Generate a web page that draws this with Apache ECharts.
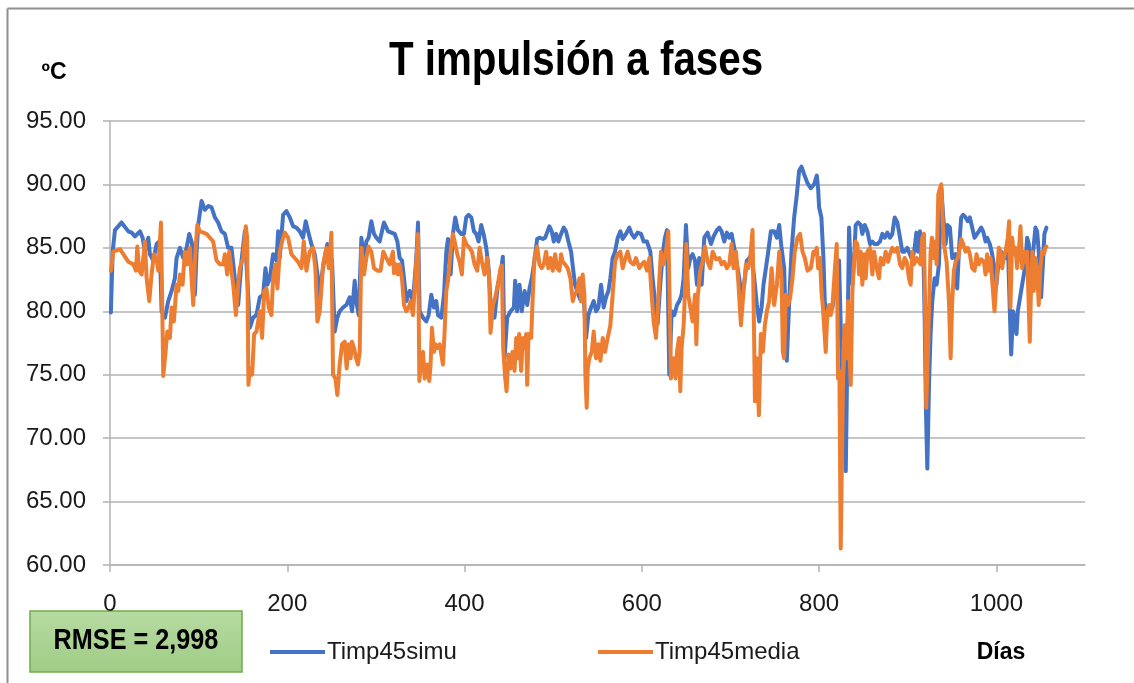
<!DOCTYPE html>
<html>
<head>
<meta charset="utf-8">
<script src="https://cdn.jsdelivr.net/npm/echarts@6/dist/echarts.min.js"></script>
<style>
  html, body { margin: 0; padding: 0; background: #fff; }
  #chart { width: 1134px; height: 683px; }
</style>
</head>
<body>
<div id="chart"></div>
<script>
// Chart text
const chartTitle = 'T impulsión a fases';
const yUnit = 'ºC';
const xName = 'Días';
const rmseText = 'RMSE = 2,998';
const seriesNames = ['Timp45simu', 'Timp45media'];

// Axis ticks
const xTickValues = [0, 200, 400, 600, 800, 1000];
const yTickValues = [60, 65, 70, 75, 80, 85, 90, 95];

// Simulated supply temperature: [day, ºC]
const simuPoints = [[1,79.9],[3,84.7],[5.6,86.4],[13,87.0],[15,87.0],[20.7,86.3],[24.4,86.2],[28.2,85.9],[33.8,86.3],[36.8,85.8],[39.4,84.7],[43.2,85.8],[45,84.5],[48.8,84.0],[52.6,85.3],[55.6,85.5],[56.7,84.0],[58.2,80.0],[62,79.5],[65.7,80.8],[69.5,81.6],[73.2,82.6],[75.1,84.2],[78.9,85.0],[82.6,84.2],[86.4,85.0],[89.4,86.1],[92,85.5],[93.9,84.7],[95.8,81.3],[97.7,84.7],[99.5,86.8],[103.3,88.7],[107,88.0],[110.8,88.3],[114.6,88.2],[118.3,87.4],[122,87.0],[125.8,86.3],[129.6,86.1],[133.3,85.0],[137.1,85.0],[140.8,82.6],[144.6,80.5],[148.4,84.0],[152.1,86.3],[154,83.7],[155.9,81.3],[157.7,78.7],[161.5,79.5],[165.2,79.7],[169,81.1],[172.8,81.3],[175.4,83.4],[177.6,82.1],[180.3,82.6],[184,84.5],[187.8,84.0],[189.7,86.3],[191.5,84.2],[195.3,87.6],[199.1,87.9],[202.8,87.4],[206.6,86.7],[210.3,86.6],[214.1,86.3],[217.8,85.8],[220.8,87.1],[223.5,86.3],[227.2,85.3],[231,84.5],[234.7,82.6],[236.6,80.5],[239.2,82.9],[242.2,84.2],[245.2,85.3],[247.9,84.7],[250.5,84.0],[253.5,78.4],[256.5,79.5],[259.1,80.0],[262.9,80.3],[266.7,80.5],[270.4,81.1],[273.1,80.0],[276.1,82.4],[277.9,80.8],[280.6,79.7],[283.6,85.8],[286.6,84.0],[289.2,85.5],[291.8,85.8],[294.8,87.1],[297.8,86.1],[300.5,85.8],[304.2,85.5],[309.1,87.0],[313.7,86.3],[317.4,86.2],[321.2,86.1],[324.2,85.5],[326.8,84.2],[329.4,84.0],[331.7,82.6],[334.3,80.8],[338.1,81.6],[341.8,80.8],[345.6,84.2],[347.5,87.0],[349.3,80.0],[353.1,79.5],[356.9,79.2],[359.5,79.7],[362.5,81.3],[365.5,80.3],[368.1,80.8],[370,79.7],[373.8,79.5],[376.8,81.3],[379.4,84.7],[381.3,85.7],[384.3,82.9],[386.9,86.1],[389.5,87.4],[392.5,86.4],[396.3,86.1],[399.3,86.1],[401.9,87.4],[404.6,87.6],[407.6,87.4],[410.6,86.3],[413.2,86.1],[415.8,85.5],[418.8,86.8],[421.5,86.1],[424.5,85.0],[427.1,83.4],[430.1,79.7],[433.8,79.5],[437.6,82.1],[440.6,82.9],[443.2,84.3],[445.1,76.3],[448.1,79.5],[451.9,80.0],[455.6,80.3],[457.1,82.4],[459.4,80.0],[462,82.1],[464.6,80.0],[467.7,81.6],[470.7,80.5],[473.3,81.8],[475.9,82.6],[478.9,84.0],[481.9,85.7],[484.5,85.8],[488.3,85.7],[490.9,85.8],[493.1,86.2],[495.8,86.7],[498.4,86.3],[500.7,85.5],[503.3,86.1],[505.9,85.5],[508.9,86.1],[511.9,86.6],[514.5,86.3],[517.2,85.5],[520.2,84.7],[523.2,82.9],[524.7,82.1],[526.9,81.6],[529.6,81.1],[531.5,80.8],[534.5,81.1],[537.1,77.9],[539.7,79.7],[542.7,80.3],[545.7,80.8],[548.4,80.0],[551,80.3],[554,82.1],[557,80.3],[559.6,81.1],[562.3,81.6],[564.5,82.6],[567.1,84.2],[569.8,84.7],[572.8,85.8],[575.8,86.3],[578.4,85.7],[582.2,86.1],[585.9,86.6],[588.5,86.1],[591.5,85.8],[595.3,86.2],[599.1,86.1],[602.1,85.5],[605.8,85.5],[609.6,84.7],[612.2,82.6],[614.8,80.8],[617.8,79.0],[620.8,82.1],[623.5,84.5],[626.1,85.8],[628.4,86.4],[631,75.0],[633.7,80.0],[636.7,79.7],[639.7,80.5],[642.3,80.8],[644.9,81.3],[647.2,82.6],[649.8,86.8],[652.4,83.4],[654.7,84.2],[657.3,84.5],[660,84.0],[662.2,82.1],[664.8,84.2],[667.5,82.1],[670.5,85.8],[674.2,86.2],[678,85.3],[681,85.9],[684.7,86.4],[687.4,86.6],[690,86.3],[693,85.5],[696,86.2],[698.6,85.8],[701.3,86.1],[704.3,85.0],[707.3,83.7],[709.9,82.6],[712.5,81.3],[715.5,82.1],[718.5,84.0],[721.2,84.2],[723.8,84.5],[726.8,82.6],[729.8,80.5],[732.4,79.2],[735.1,80.3],[737.3,82.1],[740,83.4],[742.6,84.7],[745.6,86.3],[749.3,86.3],[752.4,85.8],[755,86.8],[757.6,85.0],[760.6,83.4],[762.5,78.7],[763.6,76.1],[766.3,80.8],[768.9,84.7],[771.9,87.4],[774.9,89.2],[777.5,91.1],[780.1,91.4],[783.1,90.8],[786.9,90.1],[790.6,89.7],[794.4,90.0],[797.4,90.7],[798.9,89.7],[800,88.2],[802.6,87.4],[804.9,84.2],[806.4,80.8],[808.6,79.5],[811.3,80.0],[815,80.3],[818.8,82.1],[822.5,84.0],[825.2,76.8],[827.4,72.9],[830.1,67.4],[831.9,76.8],[833.8,86.6],[835.7,83.4],[837.6,82.1],[839.4,84.0],[841.3,86.8],[844,87.0],[847,86.8],[848.8,86.1],[851.5,86.8],[854.5,86.3],[857.5,85.3],[860.1,85.5],[862.7,85.3],[865.7,85.3],[868.7,85.5],[871.4,86.1],[874,85.8],[877,86.2],[880,85.8],[882.6,86.1],[885.3,87.4],[888.3,87.0],[891.3,85.8],[893.9,84.7],[896.5,84.7],[899.5,85.0],[902.5,84.5],[905.2,84.0],[907.8,85.0],[909.7,86.2],[911.6,84.7],[913.8,86.3],[915.3,84.2],[917.6,85.0],[919.1,79.5],[920.6,72.1],[922.1,67.6],[924,74.2],[925.8,78.2],[927.7,80.8],[930.3,82.6],[932.6,82.1],[935.2,83.7],[937.9,89.7],[940.1,87.4],[942.7,85.3],[944.6,86.8],[947.6,86.6],[950.2,84.2],[954,84.5],[955.8,81.8],[957.7,84.7],[960.3,87.4],[962.6,87.6],[965.2,87.4],[967.8,87.1],[970.1,87.4],[972.7,86.6],[975.4,85.8],[977.6,85.7],[980.2,86.3],[982.9,86.6],[985.1,86.3],[987.8,85.5],[989.6,85.8],[992.6,85.3],[995.3,84.5],[997.1,83.7],[1000.1,82.1],[1002.8,84.2],[1005.4,84.7],[1007.7,84.5],[1010.3,84.2],[1012.9,85.5],[1015.2,80.0],[1016.7,76.6],[1018.9,80.0],[1020.4,79.5],[1022.7,78.2],[1024.2,80.0],[1026.4,80.0],[1029.1,82.1],[1031,82.9],[1032.8,83.7],[1034.7,85.8],[1036.6,85.3],[1039.2,82.9],[1041.5,84.7],[1044.1,86.6],[1046,86.3],[1047.8,84.7],[1050.5,81.1],[1052.7,84.0],[1054.2,86.1],[1056.5,86.6]];

// Measured (mean) supply temperature: [day, ºC]
const mediaPoints = [[1,83.2],[3.8,84.7],[11.3,84.9],[15,84.5],[20.7,83.9],[26.3,83.7],[29.3,83.2],[30.8,85.1],[33.1,83.2],[35.7,82.9],[39.4,85.5],[41.3,82.6],[44.3,80.8],[46.9,82.9],[49.6,84.5],[52.6,84.0],[54.5,83.2],[57.5,87.0],[58.6,82.1],[60.1,74.9],[62.7,76.8],[64.6,78.4],[67.6,77.9],[69.5,80.3],[72.1,79.2],[75.1,82.1],[77,81.6],[78.9,82.9],[81.9,82.1],[84.5,84.7],[87.1,83.7],[90.1,85.0],[92,82.6],[93.9,80.5],[95.8,84.0],[98.4,86.8],[101.4,86.3],[105.2,86.2],[108.9,86.1],[112.7,85.8],[116.4,85.5],[120.2,84.0],[124,83.7],[127.7,83.7],[129.6,84.5],[132.2,82.9],[134.5,84.7],[137.1,83.2],[139,82.1],[142,79.7],[144.6,82.1],[146.5,83.4],[150.2,84.2],[153.2,86.7],[154.7,85.8],[156.2,74.2],[157.7,75.5],[160.4,75.0],[162.6,78.2],[165.2,78.4],[169,80.0],[171.6,77.9],[173.9,81.6],[176.5,81.8],[179.1,80.3],[182.1,79.7],[184,82.6],[186.7,83.7],[188.9,81.8],[191.5,84.7],[194.2,85.5],[197.2,86.2],[200.9,85.8],[204.7,84.5],[208.4,84.2],[212.2,83.9],[216,83.4],[218.6,85.5],[221.6,83.2],[225.3,84.7],[229.1,85.0],[231.7,83.4],[234,79.2],[236.6,80.0],[240.4,83.7],[244.1,85.0],[246.8,83.4],[249.8,86.2],[251.6,75.0],[254.3,74.7],[256.5,73.4],[259.1,75.8],[261.8,77.4],[264.8,77.6],[267,75.5],[269.3,77.4],[271.5,76.3],[273,77.6],[275.3,77.1],[277.6,76.3],[279.8,75.8],[281.7,76.8],[283.6,85.0],[286.6,82.9],[289.2,84.2],[291.8,85.1],[294.8,84.7],[297.8,83.4],[301.6,83.2],[305.3,83.2],[308.3,84.7],[311.7,84.2],[315.5,83.7],[319.2,84.7],[320.4,83.0],[323,83.7],[324.9,82.9],[326.8,83.7],[329.4,82.6],[331.7,80.5],[334.3,80.0],[337,80.3],[339.2,80.8],[341.8,79.7],[344.5,82.6],[347.5,86.1],[349,74.5],[351.2,76.3],[353.1,76.8],[355,74.7],[358,75.8],[360.2,74.5],[361.7,75.8],[363.2,78.7],[365.5,76.8],[367,77.4],[369.2,77.1],[371.9,77.4],[373.8,76.6],[375.6,75.8],[377.5,78.4],[379.4,81.6],[381.3,82.4],[384.3,84.7],[386.9,86.1],[388.8,85.5],[391.8,84.5],[394.4,83.9],[397,82.9],[399.3,85.8],[401.9,85.3],[405.7,85.0],[408.3,84.7],[411.3,83.7],[414.3,83.2],[417,85.0],[419.6,83.9],[422.6,82.9],[425.6,84.2],[427.8,82.6],[429.3,78.3],[432,80.5],[434.6,81.1],[437.6,82.1],[440.6,83.4],[442.1,83.6],[443.6,77.1],[445.9,74.7],[447.4,73.7],[449.6,76.6],[451.9,75.5],[454.1,76.8],[456.4,75.3],[458.3,77.9],[460.1,76.3],[461.6,78.2],[463.9,75.3],[465.8,77.9],[467.6,77.1],[469.5,78.2],[470.7,74.2],[472.2,78.2],[475.2,77.9],[477,81.3],[478.9,84.2],[481.9,85.1],[484.5,83.7],[487.1,83.4],[489.4,83.7],[492,84.7],[494.6,83.4],[496.9,84.2],[499.5,83.2],[502.2,84.5],[504.4,83.4],[507,83.2],[508.9,84.5],[510.8,83.9],[513.4,83.7],[516.4,83.4],[519.4,82.6],[522.1,80.8],[524,81.3],[526.9,81.6],[529.6,82.6],[531.5,80.8],[533.3,82.9],[535.2,81.3],[536.3,75.0],[537.8,72.4],[539,75.5],[540.8,76.3],[543.5,76.8],[545.7,78.4],[548.4,76.3],[551,77.4],[553.2,76.1],[555.9,77.9],[558.5,76.8],[561.5,77.9],[564.5,78.9],[567.1,81.3],[569.8,83.9],[572.8,84.5],[575.8,84.7],[578.4,83.4],[580.3,83.9],[584,84.7],[587,83.9],[590.8,83.7],[593.4,84.2],[597.2,83.4],[599.8,83.7],[602.8,83.9],[605.8,83.2],[608.5,84.2],[610.3,82.1],[613.3,79.2],[616,77.9],[617.8,80.0],[619.7,82.4],[621.6,84.7],[624.6,83.7],[627.2,84.7],[629.9,86.3],[631.4,80.8],[632.9,74.7],[635.9,76.3],[638.2,74.7],[639.7,76.8],[641.9,77.9],[643.4,73.7],[644.9,77.1],[647.2,78.9],[648.7,81.6],[650.2,85.3],[652.4,81.3],[654.7,80.3],[657.3,79.2],[660,81.3],[661.5,77.4],[663,81.1],[666,83.2],[668.6,83.9],[671.2,85.1],[674.2,83.9],[677.2,83.4],[679.9,84.7],[683.6,84.1],[687.4,84.2],[690,83.7],[693,83.9],[696,83.4],[698.6,83.7],[701.3,85.3],[703.5,83.4],[706.2,84.7],[708.8,82.4],[711.8,78.9],[714.8,81.6],[717.4,83.7],[720.1,83.4],[722.3,84.2],[724.9,86.4],[726.8,77.4],[727.6,72.9],[729.8,76.3],[732.1,71.8],[734.3,78.2],[736.6,76.8],[738.8,78.9],[741.1,80.0],[743.7,80.8],[746.4,83.4],[749.3,80.5],[752.4,82.1],[755,84.7],[757.6,82.6],[759.1,76.8],[760.6,76.3],[762.5,81.3],[765.1,80.5],[767.4,81.1],[770,82.6],[772.6,84.7],[775.6,85.8],[778.6,86.1],[781.3,84.7],[783.9,84.2],[786.9,83.2],[790.7,83.4],[793.7,84.7],[795.1,84.5],[797.4,85.0],[798.9,83.4],[801.1,84.2],[802.6,81.6],[804.1,80.5],[805.6,80.5],[807.5,76.8],[809.4,80.0],[811.3,80.5],[813.1,79.7],[815,80.3],[817.7,83.2],[819.9,85.3],[821.4,74.7],[822.9,75.3],[824.4,61.3],[825.9,68.9],[827.4,76.8],[828.9,78.9],[831.2,76.3],[832.7,80.8],[834.2,76.8],[835.7,74.2],[837.6,81.6],[839.4,83.9],[841.3,85.5],[843.2,85.3],[845.1,82.9],[846.9,84.7],[848.8,82.1],[850.7,84.5],[852.6,82.6],[854.5,84.7],[857.5,85.0],[860.1,82.9],[862,84.7],[865,83.4],[867.6,82.6],[869.5,84.2],[872.5,83.7],[875.1,84.7],[877.8,83.9],[880,84.5],[882.6,85.0],[885.3,84.7],[888.3,85.0],[891.3,83.7],[893.9,83.4],[896.5,84.2],[898.8,83.9],[901.4,82.6],[903.3,82.1],[905.2,84.7],[907.1,83.7],[910.1,84.2],[912.7,83.9],[914.6,83.7],[916.4,85.8],[918.3,86.1],[919.8,79.5],[920.9,72.4],[922.8,76.8],[924.3,80.8],[925.8,84.7],[927.3,85.8],[928.8,84.2],[930.3,85.5],[932.6,83.7],[934.5,89.2],[936.3,89.7],[937.9,90.0],[939.3,87.4],[940.8,85.3],[943.9,83.9],[946.5,80.8],[948.4,76.3],[950.2,80.8],[952.1,83.2],[954,83.9],[956.6,84.2],[958.8,85.0],[960.3,85.7],[962.6,85.3],[965.2,84.7],[967.8,85.0],[970.1,84.5],[972.7,83.4],[975.4,83.2],[977.6,84.5],[980.2,83.7],[982.9,84.1],[985.9,83.9],[987.8,82.9],[989.6,84.5],[991.5,83.2],[993.4,84.2],[995.3,84.2],[997.9,80.0],[1000.1,82.4],[1002.8,85.0],[1004.7,84.7],[1006.5,83.4],[1008.4,84.2],[1010.3,84.7],[1012.9,85.8],[1014.4,87.1],[1015.9,80.3],[1017.8,85.8],[1019.7,84.5],[1021.6,85.0],[1023.4,83.4],[1025.3,84.7],[1027.2,86.7],[1029.1,83.4],[1031,84.7],[1032.8,83.9],[1034.7,84.7],[1036.6,80.3],[1037.7,77.6],[1039.2,82.1],[1040.7,84.7],[1042.2,81.6],[1044.1,84.2],[1046,83.2],[1047.8,80.5],[1049.7,83.4],[1051.6,84.7],[1053.5,84.5],[1055.4,85.0],[1056.5,85.1]];

const FONT = "'Liberation Sans', Arial, sans-serif";
const BLUE = '#4472c4';
const ORANGE = '#ed7d31';
const GRID_GRAY = '#b3b3b3';
const TEXT = '#1a1a1a';

const chart = echarts.init(document.getElementById('chart'), null, { renderer: 'canvas' });

const lineSeries = (name, data, color) => ({
  name,
  type: 'line',
  data,
  showSymbol: false,
  symbol: 'none',
  smooth: false,
  animation: false,
  lineStyle: { color, width: 4, join: 'round', cap: 'round' },
  itemStyle: { color }
});

const legendBase = {
  top: 635,
  icon: 'rect',
  itemWidth: 55,
  itemHeight: 4,
  itemGap: 4,
  textStyle: { fontFamily: FONT, fontSize: 24, color: TEXT, padding: [0, 0, 0, -3] },
  selectedMode: false
};

chart.setOption({
  backgroundColor: '#fff',
  animation: false,
  grid: { left: 110, right: 49, top: 121, bottom: 118, containLabel: false },
  xAxis: {
    type: 'value',
    min: 0,
    max: 1100,
    interval: 200,
    axisLine: { show: true, lineStyle: { color: GRID_GRAY, width: 1.5 } },
    axisTick: { show: true, length: 7, customValues: xTickValues, lineStyle: { color: GRID_GRAY, width: 1.5 } },
    axisLabel: {
      customValues: xTickValues,
      margin: 27,
      fontFamily: FONT,
      fontSize: 24,
      color: TEXT,
      formatter: v => String(v)
    },
    splitLine: { show: false }
  },
  yAxis: {
    type: 'value',
    min: 60,
    max: 95,
    interval: 5,
    axisLine: { show: true, lineStyle: { color: GRID_GRAY, width: 1.5 } },
    axisTick: { show: true, length: 7, customValues: yTickValues, lineStyle: { color: GRID_GRAY, width: 1.5 } },
    axisLabel: {
      customValues: yTickValues,
      margin: 24,
      fontFamily: FONT,
      fontSize: 24,
      color: TEXT,
      formatter: v => v.toFixed(2)
    },
    splitLine: { show: true, lineStyle: { color: GRID_GRAY, width: 1.5 } }
  },
  legend: [
    Object.assign({}, legendBase, { left: 265, data: [seriesNames[0]] }),
    Object.assign({}, legendBase, { left: 593, data: [seriesNames[1]] })
  ],
  series: [
    lineSeries(seriesNames[0], simuPoints, BLUE),
    lineSeries(seriesNames[1], mediaPoints, ORANGE)
  ],
  graphic: [
    // outer frame (top and left edges)
    { type: 'line', shape: { x1: 7.5, y1: 8.5, x2: 1134, y2: 8.5 }, style: { stroke: '#8f8f8f', lineWidth: 2 }, silent: true },
    { type: 'line', shape: { x1: 7.5, y1: 8.5, x2: 7.5, y2: 683 }, style: { stroke: '#8f8f8f', lineWidth: 2 }, silent: true },
    // title (condensed by horizontal scaling)
    {
      type: 'text', x: 576, y: 62, scaleX: 0.84,
      style: { text: chartTitle, font: `bold 48px ${FONT}`, fill: '#000', align: 'center', verticalAlign: 'middle' }
    },
    // y unit
    {
      type: 'text', x: 54, y: 73,
      style: { text: yUnit, font: `bold 23px ${FONT}`, fill: '#000', align: 'center', verticalAlign: 'middle' }
    },
    // x name
    {
      type: 'text', x: 1001, y: 653,
      style: { text: xName, font: `bold 23px ${FONT}`, fill: '#000', align: 'center', verticalAlign: 'middle' }
    },
    // RMSE box
    {
      type: 'rect',
      shape: { x: 30, y: 611, width: 212, height: 61 },
      style: {
        fill: new echarts.graphic.LinearGradient(0, 0, 0, 1, [
          { offset: 0, color: '#b7dba3' },
          { offset: 1, color: '#9fcc85' }
        ]),
        stroke: '#70ad47',
        lineWidth: 1.5
      },
      silent: true
    },
    {
      type: 'text', x: 136, y: 641, scaleX: 0.87,
      style: { text: rmseText, font: `bold 29px ${FONT}`, fill: '#000', align: 'center', verticalAlign: 'middle' }
    }
  ]
});
</script>
</body>
</html>
